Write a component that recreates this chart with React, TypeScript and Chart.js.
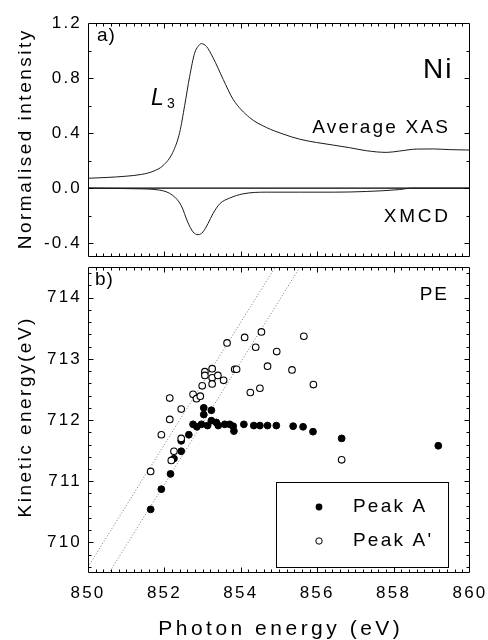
import React, { useEffect, useRef } from "react";
import { Chart, registerables } from "chart.js";

Chart.register(...registerables);

const FONT = '"Liberation Sans", Arial, Helvetica, sans-serif';

// ---------------- Panel a) : XAS / XMCD ----------------
const xasEnergy = [850.0, 850.5, 851.0, 851.4, 851.7, 851.96, 852.22, 852.4, 852.53, 852.66, 852.79, 852.88, 852.97, 853.1, 853.27, 853.54, 853.8, 854.23, 854.67, 855.11, 855.54, 855.98, 856.42, 856.85, 857.29, 857.82, 858.16, 858.6, 859.04, 859.47, 860.0];
const xasIntensity = [0.072, 0.078, 0.087, 0.1, 0.122, 0.163, 0.26, 0.405, 0.6, 0.81, 0.98, 1.03, 1.05, 1.03, 0.95, 0.79, 0.645, 0.513, 0.441, 0.393, 0.356, 0.332, 0.313, 0.294, 0.272, 0.26, 0.27, 0.284, 0.285, 0.28, 0.277];

const xmcdEnergy = [850.0, 851.2, 851.87, 852.22, 852.44, 852.61, 852.75, 852.88, 853.01, 853.14, 853.27, 853.45, 853.71, 854.06, 854.67, 855.54, 856.42, 857.29, 858.16, 858.45, 860.0];
const xmcdIntensity = [0, -0.004, -0.014, -0.053, -0.126, -0.246, -0.318, -0.338, -0.318, -0.258, -0.186, -0.113, -0.072, -0.041, -0.029, -0.029, -0.029, -0.024, -0.01, 0, 0];

const zeroEnergy = [850, 860];
const zeroIntensity = [0, 0];

const topYTicks = [-0.4, 0.0, 0.4, 0.8, 1.2];

// ---------------- Panel b) : PE ----------------
const peakAPhoton = [851.64, 851.92, 852.16, 852.25, 852.44, 852.44, 852.64, 852.75, 852.85, 852.97, 853.03, 853.03, 853.23, 853.13, 853.23, 853.36, 853.41, 853.58, 853.71, 853.8, 853.82, 854.08, 854.34, 854.5, 854.7, 854.93, 855.37, 855.63, 855.89, 856.64, 859.17];
const peakAKinetic = [710.54, 710.87, 711.12, 711.37, 711.49, 711.66, 711.76, 711.93, 711.89, 711.93, 712.2, 712.09, 712.16, 711.91, 711.99, 711.96, 711.91, 711.93, 711.93, 711.9, 711.82, 711.93, 711.91, 711.91, 711.91, 711.91, 711.9, 711.89, 711.81, 711.7, 711.58];

const peakAPrimePhoton = [851.64, 851.92, 852.14, 852.14, 852.18, 852.25, 852.44, 852.44, 852.75, 852.84, 852.94, 852.99, 853.06, 853.06, 853.25, 853.25, 853.25, 853.4, 853.55, 853.64, 853.84, 853.89, 854.1, 854.25, 854.39, 854.5, 854.54, 854.7, 854.94, 855.34, 855.65, 855.9, 856.64];
const peakAPrimeKinetic = [711.16, 711.76, 712.01, 712.36, 711.34, 711.49, 711.7, 712.18, 712.42, 712.35, 712.39, 712.56, 712.79, 712.73, 712.84, 712.69, 712.59, 712.73, 712.65, 713.26, 712.83, 712.83, 713.35, 712.45, 713.19, 712.52, 713.44, 712.88, 713.12, 712.82, 713.37, 712.58, 711.35];

const guide1Photon = [850.0, 856.0];
const guide1Kinetic = [709.6, 715.6];
const guide2Photon = [850.5, 856.5];
const guide2Kinetic = [709.45, 715.45];

const bottomYTicks = [710, 711, 712, 713, 714];
const xTicks = [850, 852, 854, 856, 858, 860];

const pts = (xs: number[], ys: number[]) => xs.map((x, i) => ({ x, y: ys[i] }));

// ---------------- helpers ----------------
function drawText(
  ctx: CanvasRenderingContext2D,
  str: string,
  x: number,
  y: number,
  size: number,
  opts: { align?: "left" | "right" | "center"; spacing?: number; italic?: boolean; rotate?: boolean } = {}
) {
  const spacing = opts.spacing ?? 0;
  ctx.save();
  ctx.font = `${opts.italic ? "italic " : ""}${size}px ${FONT}`;
  ctx.fillStyle = "#000";
  ctx.textBaseline = "alphabetic";
  ctx.textAlign = "left";
  (ctx as any).letterSpacing = `${spacing}px`;
  const w = ctx.measureText(str).width - spacing;
  const align = opts.align ?? "left";
  let dx = 0;
  if (align === "right") dx = -w;
  if (align === "center") dx = -w / 2;
  if (opts.rotate) {
    ctx.translate(x, y);
    ctx.rotate(-Math.PI / 2);
    ctx.fillText(str, dx, 0);
  } else {
    ctx.fillText(str, x + dx, y);
  }
  ctx.restore();
}

function eachTick(min: number, max: number, minor: number, major: number, cb: (v: number, isMajor: boolean) => void) {
  const n0 = Math.ceil(min / minor - 1e-6);
  const n1 = Math.floor(max / minor + 1e-6);
  for (let i = n0; i <= n1; i++) {
    const v = i * minor;
    const r = v / major;
    cb(v, Math.abs(r - Math.round(r)) < 1e-6);
  }
}

const spacingPlugin = {
  id: "spacing",
  beforeDraw(chart: any) {
    (chart.ctx as any).letterSpacing = "2.2px";
  },
};

function framePlugin(xMinor: number, xMajor: number, yMinor: number, yMajor: number) {
  return {
    id: "frame",
    afterDatasetsDraw(chart: any) {
      const { ctx, chartArea: a } = chart;
      const xs = chart.scales.x;
      const ys = chart.scales.y;
      const L = Math.round(a.left) + 0.5;
      const R = Math.round(a.right) - 0.5;
      const T = Math.round(a.top) + 0.5;
      const B = Math.round(a.bottom) - 0.5;
      ctx.save();
      ctx.strokeStyle = "#000";
      ctx.lineWidth = 1;
      ctx.beginPath();
      ctx.rect(L, T, R - L, B - T);
      ctx.stroke();
      ctx.beginPath();
      eachTick(xs.min, xs.max, xMinor, xMajor, (v, major) => {
        const p = Math.round(xs.getPixelForValue(v)) + 0.5;
        if (p <= L + 1 || p >= R - 1) return;
        const len = major ? 5 : 3;
        ctx.moveTo(p, B);
        ctx.lineTo(p, B - len);
        ctx.moveTo(p, T);
        ctx.lineTo(p, T + len);
      });
      eachTick(ys.min, ys.max, yMinor, yMajor, (v, major) => {
        const p = Math.round(ys.getPixelForValue(v)) + 0.5;
        if (p <= T + 1 || p >= B - 1) return;
        const len = major ? 5 : 3;
        ctx.moveTo(L, p);
        ctx.lineTo(L + len, p);
        ctx.moveTo(R, p);
        ctx.lineTo(R - len, p);
      });
      ctx.stroke();
      ctx.restore();
    },
  };
}

const topTextPlugin = {
  id: "topText",
  afterDraw(chart: any) {
    const ctx = chart.ctx as CanvasRenderingContext2D;
    drawText(ctx, "a)", 97, 41, 19, { spacing: 1 });
    drawText(ctx, "Ni", 423, 78, 28, { spacing: 2 });
    drawText(ctx, "L", 151, 105, 23, { italic: true });
    drawText(ctx, "3", 167, 108, 14);
    drawText(ctx, "Average XAS", 448, 133, 19, { align: "right", spacing: 2.2 });
    drawText(ctx, "XMCD", 448, 222, 19, { align: "right", spacing: 2.8 });
    drawText(ctx, "Normalised intensity", 31, 140, 19, { align: "center", spacing: 2.5, rotate: true });
  },
};

const bottomTextPlugin = {
  id: "bottomText",
  afterDraw(chart: any) {
    const ctx = chart.ctx as CanvasRenderingContext2D;
    drawText(ctx, "b)", 95, 23, 19, { spacing: 1 });
    drawText(ctx, "PE", 447, 38, 19, { align: "right", spacing: 2 });
    drawText(ctx, "Kinetic energy(eV)", 31, 156, 19, { align: "center", spacing: 2.5, rotate: true });
    drawText(ctx, "Photon energy (eV)", 279, 373, 21, { align: "center", spacing: 3.5 });

    // legend
    const bx = 276.5, by = 220.5, bw = 172, bh = 85;
    ctx.save();
    ctx.fillStyle = "#fff";
    ctx.fillRect(bx, by, bw, bh);
    ctx.strokeStyle = "#000";
    ctx.lineWidth = 1;
    ctx.strokeRect(bx, by, bw, bh);
    ctx.beginPath();
    ctx.arc(319, 245, 3.4, 0, Math.PI * 2);
    ctx.fillStyle = "#000";
    ctx.fill();
    ctx.beginPath();
    ctx.arc(319, 279, 3.2, 0, Math.PI * 2);
    ctx.fillStyle = "#fff";
    ctx.fill();
    ctx.lineWidth = 1;
    ctx.strokeStyle = "#000";
    ctx.stroke();
    ctx.restore();
    const ds = chart.data.datasets;
    drawText(ctx, ds[1].label, 353, 250, 19, { spacing: 2.2 });
    drawText(ctx, ds[0].label, 353, 284, 19, { spacing: 2.2 });
  },
};

const commonPlugins = {
  legend: { display: false },
  tooltip: { enabled: false },
  title: { display: false },
};

export default function App() {
  const topRef = useRef<HTMLCanvasElement>(null);
  const botRef = useRef<HTMLCanvasElement>(null);

  useEffect(() => {
    const lineDs = (xs: number[], ys: number[], color: string, width: number) => ({
      data: pts(xs, ys),
      borderColor: color,
      borderWidth: width,
      pointRadius: 0,
      fill: false,
      cubicInterpolationMode: "monotone" as const,
    });

    const top = new Chart(topRef.current!, {
      type: "line",
      data: {
        datasets: [
          { ...lineDs(xasEnergy, xasIntensity, "#1a1a1a", 1), label: "Average XAS" },
          { ...lineDs(xmcdEnergy, xmcdIntensity, "#1a1a1a", 1), label: "XMCD" },
          { ...lineDs(zeroEnergy, zeroIntensity, "#000", 1.3), label: "zero" },
        ],
      },
      options: {
        responsive: false,
        animation: false,
        events: [],
        plugins: commonPlugins as any,
        layout: { padding: { left: 0, right: 18, top: 23, bottom: 5 } },
        scales: {
          x: {
            type: "linear",
            min: 850,
            max: 860,
            ticks: { display: false },
            grid: { display: false, drawTicks: false },
            border: { display: false },
            afterFit: (s: any) => {
              s.height = 0;
              s.paddingLeft = 0;
              s.paddingRight = 0;
            },
          },
          y: {
            type: "linear",
            min: -0.5,
            max: 1.2,
            afterBuildTicks: (s: any) => {
              s.ticks = topYTicks.map((v) => ({ value: v }));
            },
            ticks: {
              callback: (v: any) => Number(v).toFixed(1),
              font: { family: FONT, size: 17 },
              color: "#000",
              padding: 6,
            },
            grid: { display: false, drawTicks: false },
            border: { display: false },
            afterFit: (s: any) => {
              s.width = 88;
              s.paddingTop = 0;
              s.paddingBottom = 0;
            },
          },
        },
      } as any,
      plugins: [spacingPlugin, framePlugin(0.2, 2, 0.2, 0.4), topTextPlugin],
    });

    const bottom = new Chart(botRef.current!, {
      type: "scatter",
      data: {
        datasets: [
          {
            label: "Peak A'",
            data: pts(peakAPrimePhoton, peakAPrimeKinetic),
            pointRadius: 3.3,
            pointBackgroundColor: "#fff",
            pointBorderColor: "#000",
            pointBorderWidth: 1.1,
          },
          {
            label: "Peak A",
            data: pts(peakAPhoton, peakAKinetic),
            pointRadius: 3.4,
            pointBackgroundColor: "#000",
            pointBorderColor: "#000",
            pointBorderWidth: 1,
          },
          {
            label: "guide1",
            data: pts(guide1Photon, guide1Kinetic),
            showLine: true,
            pointRadius: 0,
            borderColor: "#777",
            borderWidth: 1,
            borderDash: [1, 2],
          },
          {
            label: "guide2",
            data: pts(guide2Photon, guide2Kinetic),
            showLine: true,
            pointRadius: 0,
            borderColor: "#777",
            borderWidth: 1,
            borderDash: [1, 2],
          },
        ],
      },
      options: {
        responsive: false,
        animation: false,
        events: [],
        plugins: commonPlugins as any,
        layout: { padding: { left: 0, right: 18, top: 2, bottom: 0 } },
        scales: {
          x: {
            type: "linear",
            min: 850,
            max: 860,
            afterBuildTicks: (s: any) => {
              s.ticks = xTicks.map((v) => ({ value: v }));
            },
            ticks: {
              callback: (v: any) => String(v),
              font: { family: FONT, size: 17 },
              color: "#000",
              padding: 10,
              autoSkip: false,
              maxRotation: 0,
            },
            grid: { display: false, drawTicks: false },
            border: { display: false },
            afterFit: (s: any) => {
              s.height = 67;
              s.paddingLeft = 0;
              s.paddingRight = 0;
            },
          },
          y: {
            type: "linear",
            min: 709.5,
            max: 714.5,
            afterBuildTicks: (s: any) => {
              s.ticks = bottomYTicks.map((v) => ({ value: v }));
            },
            ticks: {
              callback: (v: any) => String(v),
              font: { family: FONT, size: 17 },
              color: "#000",
              padding: 6,
            },
            grid: { display: false, drawTicks: false },
            border: { display: false },
            afterFit: (s: any) => {
              s.width = 88;
              s.paddingTop = 0;
              s.paddingBottom = 0;
            },
          },
        },
      } as any,
      plugins: [spacingPlugin, framePlugin(0.2, 2, 0.2, 1), bottomTextPlugin],
    });

    return () => {
      top.destroy();
      bottom.destroy();
    };
  }, []);

  return (
    <div style={{ position: "absolute", left: 0, top: 0, width: 488, height: 640, background: "#fff", overflow: "hidden" }}>
      <canvas ref={topRef} width={488} height={262} style={{ position: "absolute", left: 0, top: 0, width: 488, height: 262 }} />
      <canvas ref={botRef} width={488} height={378} style={{ position: "absolute", left: 0, top: 262, width: 488, height: 378 }} />
    </div>
  );
}
